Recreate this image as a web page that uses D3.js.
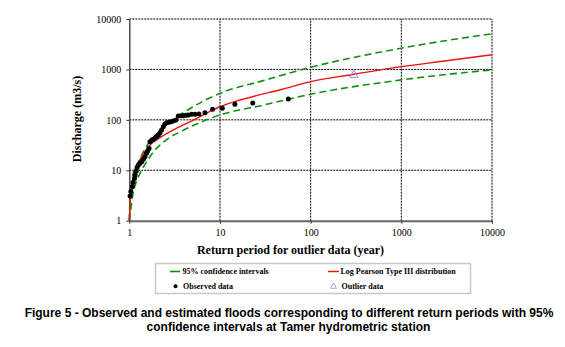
<!DOCTYPE html>
<html>
<head>
<meta charset="utf-8">
<script src="https://cdn.jsdelivr.net/npm/d3@7"></script>
<style>
  body { margin: 0; background: #fff; }
  svg { display: block; }
</style>
</head>
<body>
<div id="chart"></div>
<script>
// ---- data ----
var tickValues = [1, 10, 100, 1000, 10000];

// observed annual floods: return period (yr) / discharge (m3/s)
var obsT = [1.02, 1.04, 1.08, 1.1, 1.14, 1.16, 1.19, 1.22, 1.26, 1.31, 1.37, 1.43, 1.49, 1.55, 1.6, 1.65,
            1.69, 1.77, 1.84, 1.92, 2.0, 2.09, 2.18, 2.27, 2.37, 2.47, 2.58, 2.74, 2.88, 3.05, 3.27,
            3.47, 3.71, 3.94, 4.22, 4.47, 4.87, 5.3, 5.86, 6.83, 8.28, 10.6, 14.6, 23, 56.7];
var obsQ = [3.1, 3.8, 4.7, 5.7, 6.9, 8.1, 9.6, 11.4, 12.7, 13.8, 14.8, 16.5, 18.6, 21.7, 24.5, 27.3,
            36.8, 39.8, 41, 43, 46.5, 50, 55.5, 63, 73, 83, 88, 89.5, 92, 95, 99.6,
            119, 121, 121, 123, 125, 129, 129, 131, 139, 162, 170, 205, 217, 260];

var outlierT = [300];
var outlierQ = [780];

// Log Pearson Type III fit
var lp3T = [1, 1.02, 1.06, 1.1, 1.15, 1.3, 1.5, 1.8, 2.2, 3, 4, 5, 7.7, 10, 17, 50, 100, 300, 1000, 3000, 10000];
var lp3Q = [1, 2.2, 4, 6.5, 10, 16, 24, 35, 45, 62, 80, 97, 146, 182, 250, 410, 573, 800, 1136, 1470, 1950];

// 95% confidence limits
var upT = [1, 1.02, 1.05, 1.1, 1.25, 1.5, 1.7, 2, 2.5, 3.2, 5, 10, 30, 100, 1000, 10000];
var upQ = [1, 3, 5, 8.5, 14, 27, 38, 52, 75, 107, 180, 335, 600, 1100, 2640, 5100];
var loT = [1, 1.03, 1.1, 1.2, 1.37, 1.6, 1.84, 2.2, 2.7, 4, 6, 10, 30, 100, 1000, 10000];
var loQ = [1, 1.5, 3.5, 6, 10, 16, 23, 32, 43, 63, 88, 125, 196, 322, 620, 980];

var width = 565,
    height = 347;

var svg = d3.select("#chart").append("svg")
    .attr("width", width)
    .attr("height", height);

var x = d3.scaleLog().domain([1, 10000]).range([129.3, 492]);
var y = d3.scaleLog().domain([1, 10000]).range([220.7, 19]);

// grid (dotted)
var grid = svg.append("g").attr("class", "grid");
grid.selectAll("line.h")
    .data(tickValues.slice(1))
  .enter().append("line")
    .attr("x1", x(1)).attr("x2", x(10000))
    .attr("y1", function(d) { return y(d); })
    .attr("y2", function(d) { return y(d); })
    .style("stroke", "#000")
    .style("stroke-width", "1px")
    .style("stroke-dasharray", "2,1");
grid.selectAll("line.v")
    .data(tickValues.slice(1))
  .enter().append("line")
    .attr("y1", y(1)).attr("y2", y(10000))
    .attr("x1", function(d) { return x(d); })
    .attr("x2", function(d) { return x(d); })
    .style("stroke", "#000")
    .style("stroke-width", "1px")
    .style("stroke-dasharray", "2,1");

// axes
var yAxis = d3.axisLeft(y).tickValues(tickValues).tickFormat(d3.format("d")).tickSizeInner(3).tickSizeOuter(0).tickPadding(5);
var xAxis = d3.axisBottom(x).tickValues(tickValues).tickFormat(d3.format("d")).tickSizeInner(3).tickSizeOuter(0).tickPadding(5);

var gy = svg.append("g")
    .attr("transform", "translate(" + x(1) + ",0)")
    .call(yAxis);
var gx = svg.append("g")
    .attr("transform", "translate(0," + y(1) + ")")
    .call(xAxis);

gy.select(".domain").style("stroke", "#333").style("stroke-width", "1.3px");
gx.select(".domain").style("stroke", "#666").style("stroke-width", "2px");
svg.selectAll(".tick line").style("stroke", "#333");
svg.selectAll(".tick text")
    .style("font-family", "'Liberation Serif', 'Times New Roman', serif")
    .style("font-size", "10px")
    .style("fill", "#000");

// curves
var line = function(T, Q) {
  return d3.line()
      .x(function(d) { return x(d); })
      .y(function(d, i) { return y(Q[i]); })
      .curve(d3.curveMonotoneX)(T);
};

svg.append("path")
    .attr("d", line(upT, upQ))
    .style("fill", "none")
    .style("stroke", "#109010")
    .style("stroke-width", "1.6px")
    .style("stroke-dasharray", "7,4");
svg.append("path")
    .attr("d", line(loT, loQ))
    .style("fill", "none")
    .style("stroke", "#109010")
    .style("stroke-width", "1.6px")
    .style("stroke-dasharray", "7,4");
svg.append("path")
    .attr("d", line(lp3T, lp3Q))
    .style("fill", "none")
    .style("stroke", "#f01010")
    .style("stroke-width", "1.4px");

// observed points
svg.selectAll("circle.obs")
    .data(obsT)
  .enter().append("circle")
    .attr("class", "obs")
    .attr("cx", function(d) { return x(d); })
    .attr("cy", function(d, i) { return y(obsQ[i]); })
    .attr("r", 2.5)
    .style("fill", "#000");

// outlier
var tri = d3.symbol().type(d3.symbolTriangle).size(30);
svg.selectAll("path.outlier")
    .data(outlierT)
  .enter().append("path")
    .attr("class", "outlier")
    .attr("d", tri)
    .attr("transform", function(d, i) { return "translate(" + x(d) + "," + y(outlierQ[i]) + ")"; })
    .style("fill", "none")
    .style("stroke", "#8c8cdc")
    .style("stroke-width", "1px");

// axis titles
svg.append("text")
    .attr("x", 290.5)
    .attr("y", 254)
    .attr("text-anchor", "middle")
    .style("font-family", "'Liberation Serif', 'Times New Roman', serif")
    .style("font-weight", "bold")
    .style("font-size", "12px")
    .text("Return period for outlier data (year)");

svg.append("text")
    .attr("transform", "translate(81,119) rotate(-90)")
    .attr("text-anchor", "middle")
    .style("font-family", "'Liberation Serif', 'Times New Roman', serif")
    .style("font-weight", "bold")
    .style("font-size", "12px")
    .text("Discharge (m3/s)");

// legend
var legend = svg.append("g");
legend.append("rect")
    .attr("x", 155.5).attr("y", 263.5)
    .attr("width", 315).attr("height", 30)
    .style("fill", "#fff")
    .style("stroke", "#c8c8c8")
    .style("stroke-width", "1.5px");

var legFont = function(sel) {
  sel.style("font-family", "'Liberation Serif', 'Times New Roman', serif")
     .style("font-weight", "bold")
     .style("font-size", "8px");
};

legend.append("line")
    .attr("x1", 170).attr("x2", 180).attr("y1", 271.5).attr("y2", 271.5)
    .style("stroke", "#109010").style("stroke-width", "1.6px");
legend.append("text").attr("x", 182.5).attr("y", 274).call(legFont).text("95% confidence intervals");

legend.append("line")
    .attr("x1", 328).attr("x2", 339).attr("y1", 271.5).attr("y2", 271.5)
    .style("stroke", "#f01010").style("stroke-width", "1.4px");
legend.append("text").attr("x", 340.5).attr("y", 274).call(legFont).text("Log Pearson Type III distribution");

legend.append("circle").attr("cx", 175.5).attr("cy", 286.3).attr("r", 2)
    .style("fill", "#000");
legend.append("text").attr("x", 183).attr("y", 289).call(legFont).text("Observed data");

legend.append("path")
    .attr("d", d3.symbol().type(d3.symbolTriangle).size(16))
    .attr("transform", "translate(333.5,286.5)")
    .style("fill", "none").style("stroke", "#8c8cdc").style("stroke-width", "0.8px");
legend.append("text").attr("x", 341.5).attr("y", 289).call(legFont).text("Outlier data");

// caption
var caption = svg.append("text")
    .attr("text-anchor", "middle")
    .style("font-family", "'Liberation Sans', Arial, sans-serif")
    .style("font-weight", "bold")
    .style("font-size", "12px");
caption.append("tspan").attr("x", 289).attr("y", 316.5)
    .text("Figure 5 - Observed and estimated floods corresponding to different return periods with 95%");
caption.append("tspan").attr("x", 288.5).attr("y", 331)
    .text("confidence intervals at Tamer hydrometric station");
</script>
</body>
</html>
